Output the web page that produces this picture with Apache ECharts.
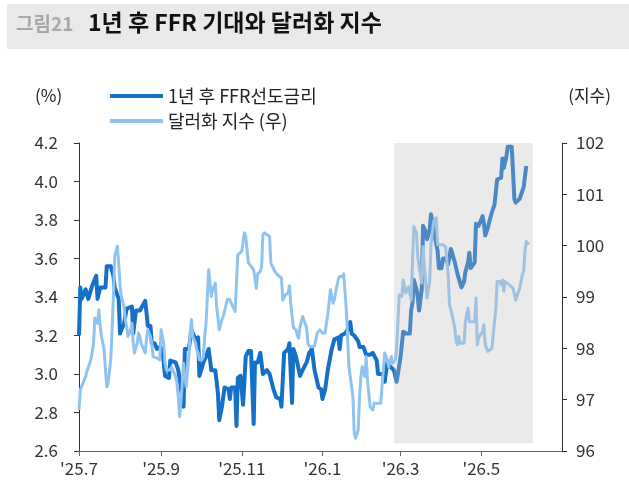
<!DOCTYPE html>
<html>
<head>
<meta charset="utf-8">
<script src="https://cdn.jsdelivr.net/npm/echarts@6/dist/echarts.min.js"></script>
<style>
  html, body { margin: 0; padding: 0; background: #fff; }
  #chart { width: 629px; height: 496px; }
</style>
</head>
<body>
<div id="chart"></div>
<script>
const FONT = "'Noto Sans CJK KR', 'Noto Sans', sans-serif"

// 1년 후 FFR 선도금리 (%, 좌축)
const ffrDates = [
  '2025-07-01','2025-07-02','2025-07-03','2025-07-06','2025-07-07','2025-07-08','2025-07-11','2025-07-14','2025-07-15','2025-07-17',
  '2025-07-21','2025-07-22','2025-07-25','2025-07-27','2025-07-28','2025-07-31','2025-08-01','2025-08-02','2025-08-04','2025-08-06',
  '2025-08-10','2025-08-11','2025-08-13','2025-08-16','2025-08-20','2025-08-21','2025-08-22','2025-08-24','2025-08-25','2025-08-27',
  '2025-08-29','2025-08-31','2025-09-02','2025-09-04','2025-09-07','2025-09-08','2025-09-12','2025-09-14','2025-09-17','2025-09-18',
  '2025-09-19','2025-09-22','2025-09-24','2025-09-27','2025-09-29','2025-09-30','2025-10-03','2025-10-05','2025-10-07','2025-10-09',
  '2025-10-12','2025-10-14','2025-10-15','2025-10-17','2025-10-19','2025-10-22','2025-10-23','2025-10-24','2025-10-27','2025-10-28',
  '2025-10-29','2025-10-31','2025-11-02','2025-11-04','2025-11-06','2025-11-08','2025-11-10','2025-11-11','2025-11-13','2025-11-15',
  '2025-11-17','2025-11-20','2025-11-22','2025-11-25','2025-11-27','2025-11-30','2025-12-01','2025-12-03','2025-12-06','2025-12-07',
  '2025-12-09','2025-12-10','2025-12-12','2025-12-15','2025-12-17','2025-12-20','2025-12-22','2025-12-24','2025-12-26','2025-12-29',
  '2025-12-31','2026-01-01','2026-01-03','2026-01-05','2026-01-08','2026-01-10','2026-01-13','2026-01-14','2026-01-15','2026-01-18',
  '2026-01-20','2026-01-22','2026-01-23','2026-01-25','2026-01-28','2026-01-29','2026-02-01','2026-02-03','2026-02-06','2026-02-08',
  '2026-02-09','2026-02-11','2026-02-12','2026-02-14','2026-02-16','2026-02-17','2026-02-19','2026-02-21','2026-02-22','2026-02-24',
  '2026-02-26','2026-02-27','2026-03-01','2026-03-03','2026-03-05','2026-03-08','2026-03-09','2026-03-10','2026-03-11','2026-03-13',
  '2026-03-14','2026-03-15','2026-03-17','2026-03-18','2026-03-20','2026-03-21','2026-03-23','2026-03-24','2026-03-26','2026-03-27',
  '2026-03-29','2026-03-30','2026-04-01','2026-04-02','2026-04-04','2026-04-06','2026-04-08','2026-04-11','2026-04-13','2026-04-16',
  '2026-04-17','2026-04-18','2026-04-19','2026-04-21','2026-04-22','2026-04-23','2026-04-24','2026-04-26','2026-04-27','2026-04-29',
  '2026-05-02','2026-05-03','2026-05-04','2026-05-06','2026-05-07','2026-05-09','2026-05-11','2026-05-13','2026-05-16','2026-05-17',
  '2026-05-18','2026-05-20','2026-05-21','2026-05-24','2026-05-25','2026-05-26','2026-05-27','2026-05-30','2026-06-01','2026-06-02',
  '2026-06-03','2026-06-04'
]
const ffrValues = [
  3.20, 3.45, 3.39, 3.44, 3.45, 3.39, 3.46, 3.51, 3.39, 3.45,
  3.45, 3.56, 3.56, 3.51, 3.45, 3.39, 3.21, 3.23, 3.26, 3.34,
  3.35, 3.21, 3.33, 3.33, 3.38, 3.32, 3.25, 3.25, 3.16, 3.16,
  3.13, 3.14, 3.13, 2.99, 2.98, 3.07, 3.06, 3.02, 2.88, 2.83,
  3.13, 3.13, 3.23, 3.18, 3.19, 2.99, 3.06, 3.09, 3.13, 3.02,
  3.02, 2.90, 2.76, 2.83, 2.93, 2.92, 2.87, 2.93, 2.93, 2.73,
  2.98, 2.99, 2.84, 3.09, 3.12, 3.12, 2.74, 3.06, 3.06, 3.11,
  3.00, 3.02, 3.00, 2.92, 2.88, 2.87, 2.83, 3.11, 3.13, 3.16,
  2.85, 3.13, 3.09, 2.99, 3.02, 3.06, 3.11, 3.13, 3.02, 2.93,
  2.92, 2.87, 2.92, 3.02, 3.13, 3.18, 3.19, 3.13, 3.20, 3.21,
  3.23, 3.27, 3.21, 3.20, 3.17, 3.14, 3.14, 3.10, 3.10, 3.11,
  3.12, 3.07, 3.00, 3.00, 3.00, 2.96, 3.06, 3.04, 3.05, 3.02,
  2.96, 3.00, 3.09, 3.22, 3.21, 3.21, 3.33, 3.37, 3.49, 3.44,
  3.40, 3.33, 3.44, 3.77, 3.74, 3.70, 3.75, 3.83, 3.75, 3.71,
  3.64, 3.55, 3.55, 3.60, 3.60, 3.57, 3.65, 3.58, 3.52, 3.45,
  3.44, 3.48, 3.53, 3.58, 3.63, 3.55, 3.56, 3.58, 3.78, 3.77,
  3.82, 3.78, 3.72, 3.76, 3.79, 3.84, 3.88, 4.01, 4.02, 4.12,
  4.07, 4.13, 4.18, 4.18, 4.05, 3.91, 3.89, 3.91, 3.95, 3.97,
  3.96, 4.08
]

// 달러화 지수 (우축)
const dxyDates = [
  '2025-07-01','2025-07-02','2025-07-03','2025-07-06','2025-07-07','2025-07-10','2025-07-11','2025-07-12','2025-07-13','2025-07-14',
  '2025-07-15','2025-07-16','2025-07-17','2025-07-18','2025-07-20','2025-07-21','2025-07-22','2025-07-23','2025-07-25','2025-07-26',
  '2025-07-27','2025-07-28','2025-07-30','2025-07-31','2025-08-01','2025-08-02','2025-08-04','2025-08-05','2025-08-06','2025-08-07',
  '2025-08-09','2025-08-10','2025-08-11','2025-08-12','2025-08-14','2025-08-15','2025-08-16','2025-08-17','2025-08-19','2025-08-20',
  '2025-08-21','2025-08-22','2025-08-24','2025-08-25','2025-08-26','2025-08-27','2025-08-29','2025-08-31','2025-09-01','2025-09-03',
  '2025-09-04','2025-09-05','2025-09-08','2025-09-09','2025-09-10','2025-09-12','2025-09-13','2025-09-14','2025-09-15','2025-09-16',
  '2025-09-17','2025-09-18','2025-09-19','2025-09-20','2025-09-22','2025-09-23','2025-09-24','2025-09-25','2025-09-27','2025-09-28',
  '2025-09-29','2025-09-30','2025-10-02','2025-10-03','2025-10-04','2025-10-05','2025-10-07','2025-10-09','2025-10-10','2025-10-12',
  '2025-10-13','2025-10-15','2025-10-17','2025-10-18','2025-10-21','2025-10-23','2025-10-24','2025-10-27','2025-10-29','2025-11-01',
  '2025-11-03','2025-11-04','2025-11-06','2025-11-08','2025-11-10','2025-11-11','2025-11-12','2025-11-13','2025-11-15','2025-11-16',
  '2025-11-17','2025-11-18','2025-11-22','2025-11-23','2025-11-26','2025-11-28','2025-12-01','2025-12-02','2025-12-04','2025-12-06',
  '2025-12-07','2025-12-08','2025-12-10','2025-12-12','2025-12-13','2025-12-14','2025-12-15','2025-12-17','2025-12-20','2025-12-21',
  '2025-12-22','2025-12-24','2025-12-26','2025-12-28','2025-12-30','2026-01-01','2026-01-03','2026-01-04','2026-01-05','2026-01-07',
  '2026-01-09','2026-01-10','2026-01-11','2026-01-13','2026-01-14','2026-01-16','2026-01-17','2026-01-19','2026-01-20','2026-01-21',
  '2026-01-24','2026-01-25','2026-01-26','2026-01-28','2026-01-29','2026-01-30','2026-01-31','2026-02-02','2026-02-03','2026-02-04',
  '2026-02-06','2026-02-08','2026-02-09','2026-02-14','2026-02-17','2026-02-19','2026-02-20','2026-02-22','2026-02-23','2026-02-25',
  '2026-02-26','2026-02-28','2026-03-02','2026-03-03','2026-03-05','2026-03-07','2026-03-09','2026-03-10','2026-03-11','2026-03-13',
  '2026-03-14','2026-03-15','2026-03-17','2026-03-18','2026-03-19','2026-03-21','2026-03-23','2026-03-24','2026-03-26','2026-03-28',
  '2026-03-29','2026-03-30','2026-04-02','2026-04-04','2026-04-05','2026-04-06','2026-04-07','2026-04-09','2026-04-10','2026-04-11',
  '2026-04-12','2026-04-13','2026-04-14','2026-04-15','2026-04-18','2026-04-19','2026-04-21','2026-04-22','2026-04-26','2026-04-27',
  '2026-04-28','2026-04-29','2026-05-02','2026-05-03','2026-05-04','2026-05-06','2026-05-09','2026-05-12','2026-05-13','2026-05-15',
  '2026-05-16','2026-05-17','2026-05-18','2026-05-19','2026-05-22','2026-05-25','2026-05-27','2026-05-30','2026-06-01','2026-06-02',
  '2026-06-03','2026-06-04','2026-06-06'
]
const dxyValues = [
  96.80, 97.19, 97.19, 97.45, 97.55, 97.78, 97.94, 98.10, 98.59, 98.62,
  98.49, 98.75, 98.43, 98.23, 97.97, 97.58, 97.25, 97.32, 97.78, 98.36,
  99.01, 99.79, 99.99, 99.66, 99.21, 99.01, 98.82, 98.56, 98.43, 98.23,
  98.36, 98.49, 98.10, 97.91, 98.10, 98.30, 98.23, 98.10, 97.97, 97.91,
  98.17, 98.36, 98.23, 98.10, 97.84, 97.81, 97.81, 97.78, 98.36, 98.10,
  97.71, 97.58, 97.58, 97.64, 97.58, 97.45, 97.32, 97.06, 96.67, 96.93,
  97.32, 97.71, 97.45, 97.25, 97.84, 98.30, 98.56, 98.23, 98.10, 97.97,
  97.91, 97.78, 97.78, 97.84, 98.23, 98.49, 99.53, 99.01, 99.14, 99.27,
  98.82, 98.36, 98.56, 98.62, 98.95, 98.95, 98.88, 98.72, 99.82, 99.89,
  100.25, 100.18, 99.66, 99.60, 99.53, 99.35, 99.17, 99.45, 99.50, 99.59,
  100.21, 100.25, 100.18, 99.66, 99.50, 99.43, 99.37, 98.94, 99.04, 99.08,
  99.22, 98.88, 98.40, 98.36, 98.25, 98.20, 98.42, 98.62, 98.40, 98.10,
  98.04, 98.03, 98.04, 98.30, 98.36, 98.30, 98.30, 98.49, 98.65, 99.14,
  98.88, 98.95, 99.10, 99.35, 99.40, 99.40, 99.45, 98.75, 98.75, 97.64,
  97.06, 96.35, 96.25, 96.41, 97.06, 97.45, 97.64, 97.45, 97.84, 97.38,
  96.86, 96.80, 96.93, 96.93, 97.91, 97.77, 97.64, 97.84, 97.71, 97.77,
  97.97, 99.04, 99.01, 99.33, 99.08, 99.20, 98.94, 99.66, 100.37, 100.25,
  99.79, 99.59, 99.27, 99.98, 99.59, 98.98, 99.30, 100.02, 100.47, 100.54,
  100.02, 100.05, 100.02, 99.98, 99.95, 99.43, 98.85, 98.65, 98.52, 98.39,
  98.13, 98.07, 98.23, 98.10, 98.10, 98.52, 98.78, 98.52, 98.52, 98.98,
  98.07, 98.20, 98.33, 98.46, 98.07, 97.94, 98.00, 98.78, 99.30, 99.30,
  99.24, 99.33, 99.11, 99.30, 99.24, 99.17, 98.94, 99.17, 99.43, 99.50,
  99.89, 100.08, 100.02
]

// x축 눈금
const tickDates = ['2025-07-01', '2025-09-01', '2025-11-01', '2026-01-01', '2026-03-01', '2026-05-01']
const tickLabels = ["'25.7", "'25.9", "'25.11", "'26.1", "'26.3", "'26.5"]
// 음영 구간
const shadeDates = ['2026-02-24', '2026-06-09']
const shadeValues = [2.64, 4.24]

const toTime = (s) => {
  const [y, m, d] = s.split('-').map(Number)
  return Date.UTC(y, m - 1, d)
}
const tickTimes = tickDates.map(toTime)

const chart = echarts.init(document.getElementById('chart'))

const option = {
  backgroundColor: '#fff',
  animation: false,
  textStyle: { fontFamily: FONT },
  grid: { left: 79, right: 67, top: 143, bottom: 45 },
  graphic: [
    { type: 'rect', left: 7, top: 4, shape: { width: 622, height: 45 }, style: { fill: '#e9e9e9' } },
    { type: 'text', left: 16, top: 14, style: { text: '그림21', font: `bold 19px ${FONT}`, fill: '#a8a8a8' } },
    { type: 'text', left: 88, top: 11, style: { text: '1년 후 FFR 기대와 달러화 지수', font: `bold 23px ${FONT}`, fill: '#111' } },
    { type: 'text', left: 35, top: 87, style: { text: '(%)', font: `17px ${FONT}`, fill: '#222' } },
    { type: 'text', right: 18, top: 87, style: { text: '(지수)', font: `17px ${FONT}`, fill: '#222' } }
  ],
  legend: {
    left: 105,
    top: 82,
    orient: 'vertical',
    icon: 'rect',
    itemWidth: 53,
    itemHeight: 4,
    itemGap: 7,
    textStyle: { fontSize: 18, color: '#222', fontFamily: FONT },
    data: ['1년 후 FFR선도금리', '달러화 지수 (우)']
  },
  xAxis: {
    type: 'value',
    min: toTime('2025-07-01'),
    max: toTime('2026-07-01'),
    axisLine: { show: true, lineStyle: { color: '#666', width: 1 } },
    axisTick: { show: true, length: 5, customValues: tickTimes, lineStyle: { color: '#666' } },
    axisLabel: {
      customValues: tickTimes,
      margin: 9,
      fontSize: 17,
      color: '#333',
      fontFamily: FONT,
      formatter: (v) => {
        const i = tickTimes.findIndex((t) => Math.abs(t - v) < 864e5)
        return i >= 0 ? tickLabels[i] : ''
      }
    },
    splitLine: { show: false }
  },
  yAxis: [
    {
      type: 'value',
      min: 2.6,
      max: 4.2,
      interval: 0.2,
      axisLine: { show: true, lineStyle: { color: '#333' } },
      axisTick: { show: true, length: 5, lineStyle: { color: '#333' } },
      axisLabel: { formatter: (v) => v.toFixed(1), margin: 21, fontSize: 17, color: '#333', fontFamily: FONT },
      splitLine: { show: false }
    },
    {
      type: 'value',
      min: 96,
      max: 102,
      interval: 1,
      position: 'right',
      axisLine: { show: true, lineStyle: { color: '#333' } },
      axisTick: { show: true, length: 5, lineStyle: { color: '#333' } },
      axisLabel: { margin: 14, fontSize: 17, color: '#333', fontFamily: FONT },
      splitLine: { show: false }
    }
  ],
  series: [
    {
      name: '1년 후 FFR선도금리',
      type: 'line',
      yAxisIndex: 0,
      data: ffrDates.map((d, i) => [toTime(d), ffrValues[i]]),
      showSymbol: false,
      color: '#1570c8',
      lineStyle: { width: 4, color: '#1570c8', join: 'round' },
      z: 3
    },
    {
      name: '달러화 지수 (우)',
      type: 'line',
      yAxisIndex: 1,
      data: dxyDates.map((d, i) => [toTime(d), dxyValues[i]]),
      showSymbol: false,
      color: '#90c4f0',
      lineStyle: { width: 3, color: '#90c4f0', join: 'round' },
      z: 4
    },
    {
      name: 'shade',
      type: 'line',
      yAxisIndex: 0,
      data: [],
      clip: false,
      silent: true,
      z: 10,
      markArea: {
        silent: true,
        z: 10,
        itemStyle: { color: 'rgba(190,190,190,0.32)' },
        data: [[
          { coord: [toTime(shadeDates[0]), shadeValues[0]] },
          { coord: [toTime(shadeDates[1]), shadeValues[1]] }
        ]]
      }
    }
  ]
}

chart.setOption(option)
</script>
</body>
</html>
